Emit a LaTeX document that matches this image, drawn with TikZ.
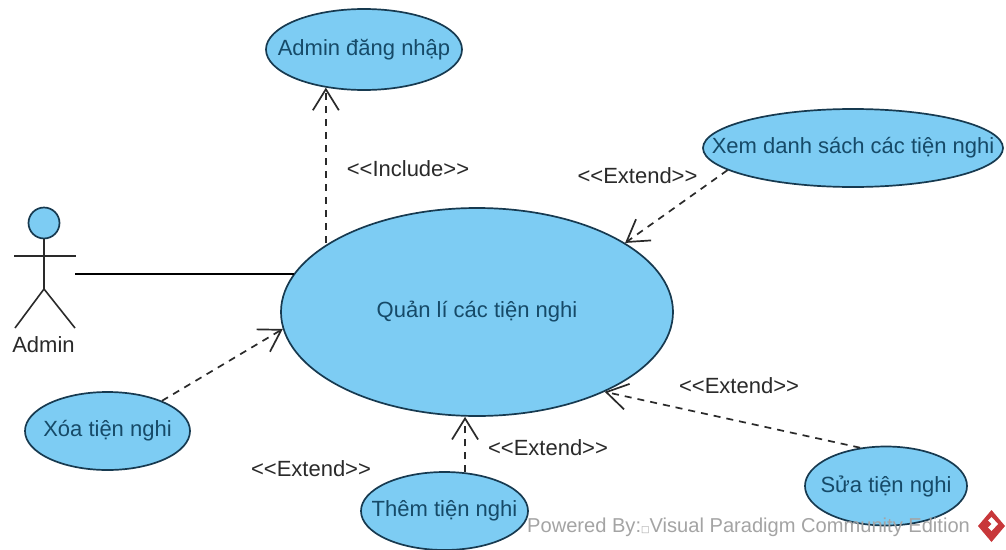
\documentclass[tikz,border=0pt]{standalone}
\usepackage{fontspec}
\setmainfont{Liberation Sans}
\newfontfamily\symfont{DejaVu Sans}
\usetikzlibrary{shapes.geometric,arrows.meta}
\definecolor{ucfill}{HTML}{7DCCF3}
\definecolor{ucline}{HTML}{173A50}
\definecolor{uctext}{HTML}{164A68}
\definecolor{inkc}{HTML}{2A2A2A}
\definecolor{wmark}{HTML}{A4A4A4}
\definecolor{logored}{HTML}{C8373A}
\newcommand{\ucname}[1]{\raisebox{-1.5pt}{\makebox[0pt][c]{#1}}}
\tikzset{
  uc/.style={ellipse,draw=ucline,fill=ucfill,line width=1.7pt,inner sep=0pt,text=uctext,font=\fontsize{22}{24}\selectfont},
  lbl/.style={inner sep=0pt,text=inkc,font=\fontsize{22}{24}\selectfont},
  dep/.style={draw=inkc,line width=1.7pt,dash pattern=on 7pt off 6pt,-{Straight Barb[length=21pt,width=26pt,line width=1.7pt]}},
  assoc/.style={draw=black,line width=1.8pt},
  stick/.style={draw=inkc,line width=1.6pt}
}
\begin{document}
\begin{tikzpicture}[x=1pt,y=-1pt]
\useasboundingbox (0,0) rectangle (1006,549);
\fill[white] (0,0) rectangle (1006,549);
% use cases
\node[uc,minimum width=196pt,minimum height=81pt] (login) at (364,49.5) {\ucname{Admin đăng nhập}};
\node[uc,minimum width=300pt,minimum height=78pt] (xem) at (853,148) {\ucname{Xem danh sách các tiện nghi}};
\node[uc,minimum width=392pt,minimum height=208pt] (main) at (477,312) {\ucname{Quản lí các tiện nghi}};
\node[uc,minimum width=165pt,minimum height=78pt] (xoa) at (107.5,431) {\ucname{Xóa tiện nghi}};
\node[uc,minimum width=167pt,minimum height=78pt] (them) at (444.5,511) {\ucname{Thêm tiện nghi}};
\node[uc,minimum width=162pt,minimum height=79pt] (sua) at (886,486) {\ucname{Sửa tiện nghi}};
% actor
\node[circle,draw=ucline,fill=ucfill,line width=1.7pt,minimum size=31pt,inner sep=0pt] (head) at (44,223) {};
\coordinate (hip) at (44,289);
\coordinate (armL) at (14,256);
\coordinate (armR) at (76,256);
\coordinate (legL) at (15,328);
\coordinate (legR) at (75,328);
\coordinate (actorR) at (75,274);
\draw[stick] (head.south) -- (hip);
\draw[stick] (armL) -- (armR);
\draw[stick] (legL) -- (hip) -- (legR);
\node[lbl] (admin) at (43.5,345) {Admin};
% connectors
\draw[assoc] (actorR) -- (actorR -| main.168.3);
\draw[dep] (login.225 |- main.155.3) -- (login.225);
\draw[dep] (xem.190) -- (main.25.6);
\draw[dep] (xoa.29) -- (main.185.9);
\draw[dep] (them.62) -- (them.62 |- main.south);
\draw[dep] (sua.124) -- (main.-32.7);
% labels
\node[lbl] (l1) at (408,169) {<{}<Include>{}>};
\node[lbl] (l2) at (637.5,176) {<{}<Extend>{}>};
\node[lbl] (l3) at (739,386) {<{}<Extend>{}>};
\node[lbl] (l4) at (548,448) {<{}<Extend>{}>};
\node[lbl] (l5) at (311,469) {<{}<Extend>{}>};
% watermark
\node[inner sep=0pt,anchor=west,text=wmark,font=\fontsize{20.1}{24}\selectfont] (wm) at (527,527) {Powered By:{\symfont\fontsize{9}{9}\selectfont □}Visual Paradigm Community Edition};
\fill[logored] (991.5,510) -- (1005,526) -- (991.5,542) -- (978,526) -- cycle;
\fill[white] (991.5,517) -- (998,524) -- (991.5,531) -- (988,527.5) -- (991.5,524) -- (988,520.5) -- cycle;
\end{tikzpicture}
\end{document}
